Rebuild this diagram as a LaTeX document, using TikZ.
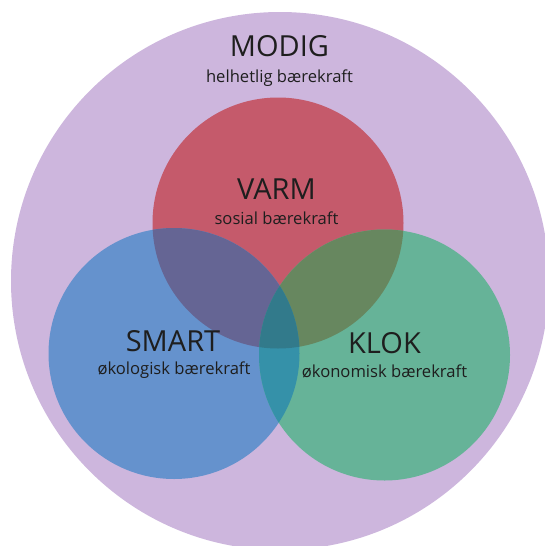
\documentclass[tikz,border=0pt]{standalone}
\usepackage{fontspec}
\setmainfont{Open Sans}
\definecolor{modigc}{HTML}{CDB6DD}
\definecolor{varmc}{HTML}{C55A6B}
\definecolor{smartc}{HTML}{6592CD}
\definecolor{klokc}{HTML}{66B398}
\definecolor{rbc}{HTML}{656594}
\definecolor{rgc}{HTML}{67875F}
\definecolor{bgc}{HTML}{3591A9}
\definecolor{rbgc}{HTML}{327A8B}
\definecolor{textc}{HTML}{1E1E1E}
\tikzset{
  title/.style={text=textc, inner sep=0pt, anchor=base, font=\fontsize{29}{31}\selectfont},
  sub/.style={text=textc, inner sep=0pt, anchor=base, font=\fontsize{16.6}{18}\selectfont},
}
\begin{document}
\begin{tikzpicture}[x=1pt,y=-1pt]
\useasboundingbox (0,0) rectangle (545,546);
\coordinate (cM) at (280,281);
\coordinate (cR) at (278,223);
\coordinate (cB) at (174,353.5);
\coordinate (cG) at (384.5,355);
\def\rr{125.5}
\begin{scope}
  \clip (0,0) rectangle (545,546);
  \fill[modigc] (cM) circle (269);
\end{scope}
\fill[varmc] (cR) circle (\rr);
\fill[smartc] (cB) circle (\rr);
\fill[klokc] (cG) circle (\rr);
\begin{scope}
  \clip (cR) circle (\rr);
  \fill[rbc] (cB) circle (\rr);
  \fill[rgc] (cG) circle (\rr);
\end{scope}
\begin{scope}
  \clip (cB) circle (\rr);
  \fill[bgc] (cG) circle (\rr);
  \clip (cR) circle (\rr);
  \fill[rbgc] (cG) circle (\rr);
\end{scope}
\node[title] (modig) at (279.5,56) {MODIG};
\node[sub] (modigsub) at (279.5,82.7) {helhetlig bærekraft};
\node[title] (varm) at (276.5,199.3) {VARM};
\node[sub] (varmsub) at (276.5,224) {sosial bærekraft};
\node[title] (smart) at (173,351.7) {SMART};
\node[sub] (smartsub) at (174,374.3) {økologisk bærekraft};
\node[title] (klok) at (384.5,353.3) {KLOK};
\node[sub] (kloksub) at (384.5,377.3) {økonomisk bærekraft};
\end{tikzpicture}
\end{document}
